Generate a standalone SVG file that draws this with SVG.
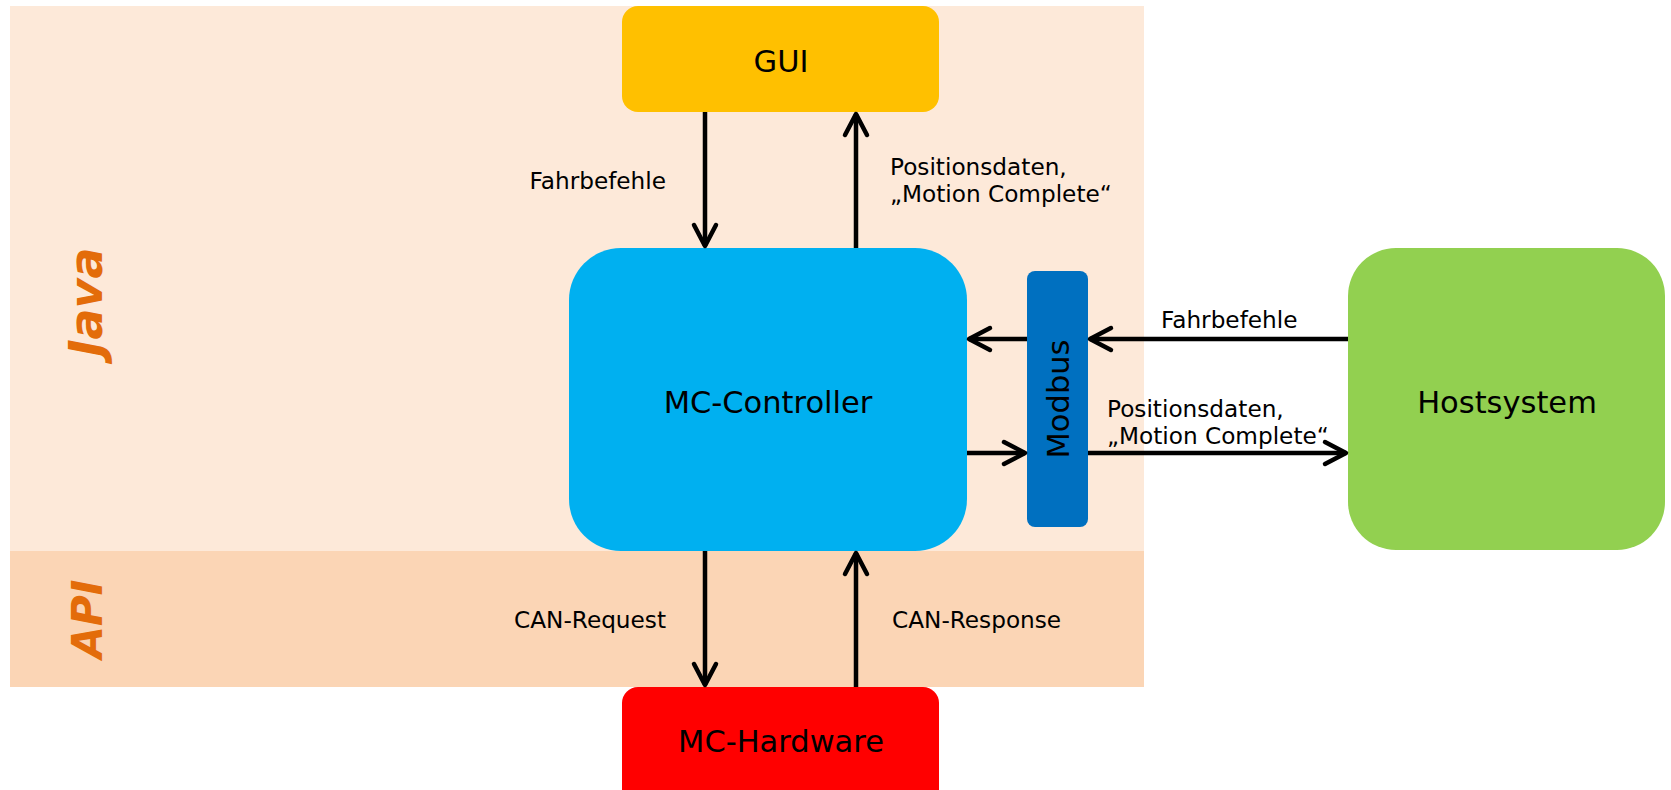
<svg xmlns="http://www.w3.org/2000/svg" width="1671" height="790" viewBox="0 0 1671 790">
<style>
.lbl{font-family:"DejaVu Sans",sans-serif;font-size:23.2px;fill:#000}
.node{font-family:"DejaVu Sans",sans-serif;font-size:30.5px;fill:#000;text-anchor:middle}
.layer{font-family:"DejaVu Sans",sans-serif;font-size:46px;font-weight:bold;font-style:italic;fill:#E36C0A;text-anchor:middle}
.con{stroke:#000;stroke-width:4.5;fill:none;marker-end:url(#ah)}
</style>
<defs>
<marker id="ah" markerUnits="userSpaceOnUse" markerWidth="40" markerHeight="40" viewBox="-30 -20 40 40" refX="0" refY="0" orient="auto" overflow="visible">
<path d="M-21 -11 L0 0 L-21 11" fill="none" stroke="#000" stroke-width="4.5" stroke-linecap="round" stroke-linejoin="round"/>
</marker>
</defs>
<rect width="1671" height="790" fill="#fff"/>
<g id="layer-java">
<rect x="10" y="6" width="1134" height="545" fill="#FDE9D9"/>
<text class="layer" transform="translate(102,302) rotate(-90)">Java</text>
</g>
<g id="layer-api">
<rect x="10" y="551" width="1134" height="136" fill="#FBD5B5"/>
<text class="layer" style="font-size:42px" transform="translate(102,619) rotate(-90)">API</text>
</g>
<g id="gui">
<rect x="622" y="6" width="317" height="106" rx="16" fill="#FFC000"/>
<text class="node" x="781" y="72">GUI</text>
</g>
<g id="mc-controller">
<rect x="569" y="248" width="398" height="303" rx="52" fill="#00B0F0"/>
<text class="node" x="768" y="413">MC-Controller</text>
</g>
<g id="modbus">
<rect x="1027" y="271" width="61" height="256" rx="8" fill="#0070C0"/>
<text class="node" transform="translate(1069,399) rotate(-90)">Modbus</text>
</g>
<g id="hostsystem">
<rect x="1348" y="248" width="317" height="302" rx="48" fill="#92D050"/>
<text class="node" x="1507" y="413">Hostsystem</text>
</g>
<g id="mc-hardware">
<rect x="622" y="687" width="317" height="130" rx="16" fill="#FF0000"/>
<text class="node" x="781" y="752">MC-Hardware</text>
</g>
<g id="connectors">
<path class="con" d="M705 112 L705 246"/>
<path class="con" d="M856 248 L856 114"/>
<path class="con" d="M1348 339 L1090 339"/>
<path class="con" d="M1027 339 L969 339"/>
<path class="con" d="M967 453 L1025 453"/>
<path class="con" d="M1088 453 L1346 453"/>
<path class="con" d="M705 551 L705 685"/>
<path class="con" d="M856 687 L856 553"/>
<text class="lbl" x="666" y="189" text-anchor="end">Fahrbefehle</text>
<text class="lbl" x="890" y="175">Positionsdaten,</text>
<text class="lbl" x="890" y="202">„Motion Complete“</text>
<text class="lbl" x="1161" y="328">Fahrbefehle</text>
<text class="lbl" x="1107" y="417">Positionsdaten,</text>
<text class="lbl" x="1107" y="444">„Motion Complete“</text>
<text class="lbl" x="666" y="628" text-anchor="end">CAN-Request</text>
<text class="lbl" x="892" y="628">CAN-Response</text>
</g>
</svg>
